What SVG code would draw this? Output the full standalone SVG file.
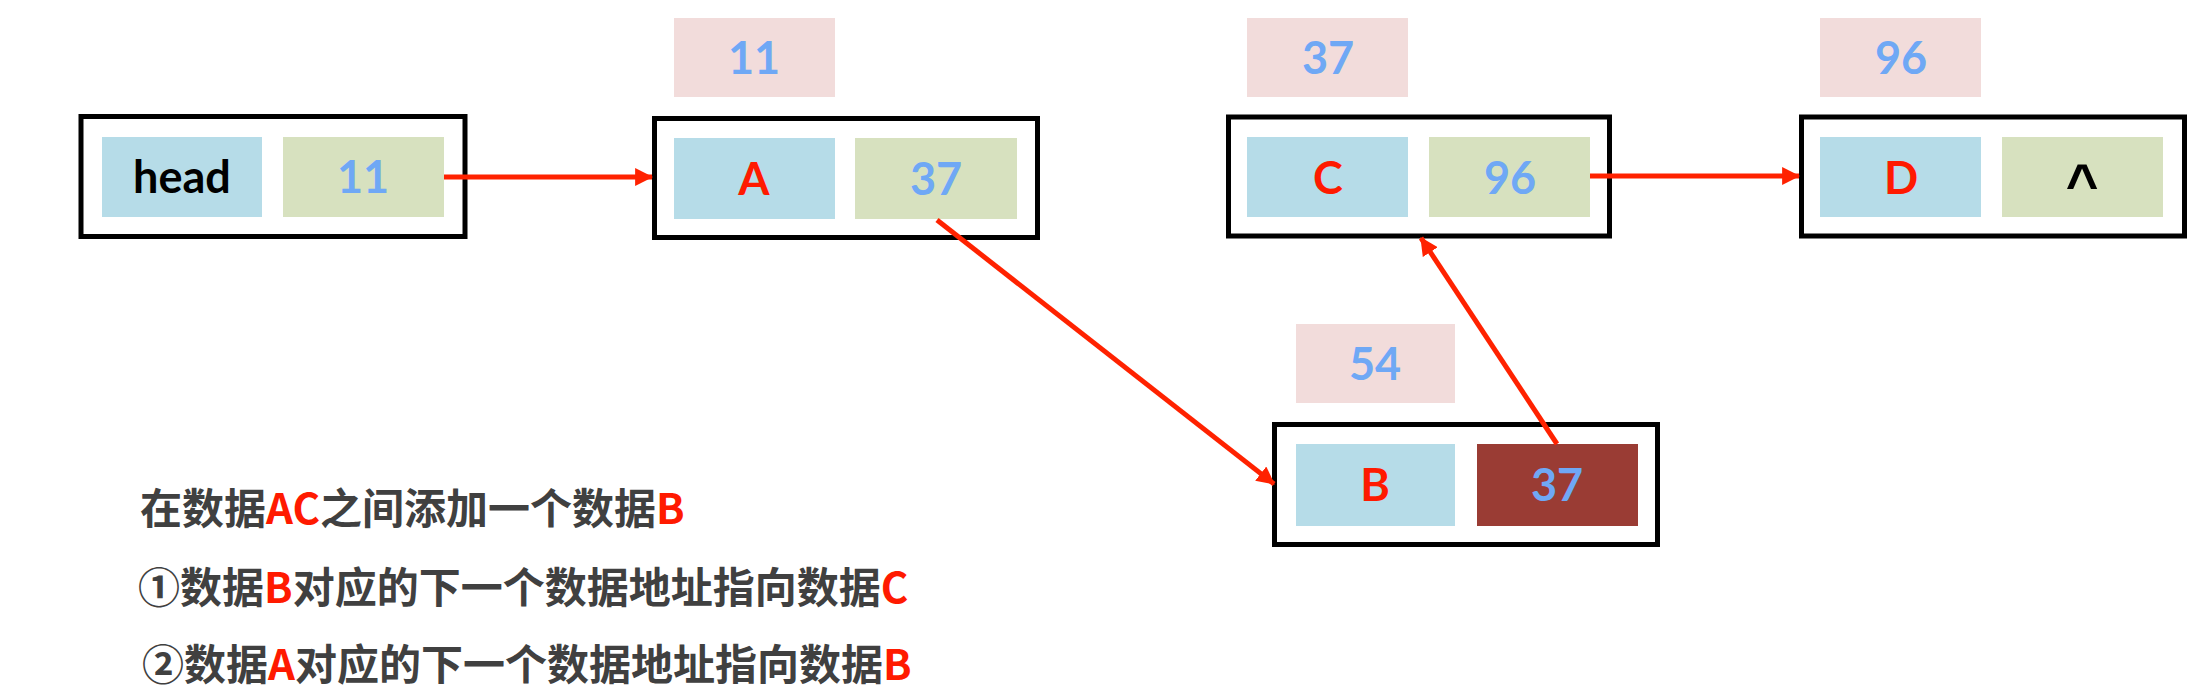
<svg xmlns="http://www.w3.org/2000/svg" width="2197" height="693" viewBox="0 0 2197 693">
<style>
.frame{fill:#ffffff;stroke:#000000;stroke-width:5}
.key{fill:#b6dce8}
.next{fill:#d7e1bf}
.addr{fill:#f2dcdb}
.hot{fill:#9a3c34}
.lbl{font-family:"Lato","Liberation Sans",sans-serif;font-weight:700;font-size:45px;text-anchor:middle}
.num{fill:#6fa8f5}
.red{fill:#ff1a00}
.blk{fill:#000000}
.link{stroke:#ff2200;stroke-width:5;fill:none;marker-end:url(#arr)}
.note{font-family:"Noto Sans CJK SC","Noto Sans",sans-serif;font-weight:700;font-size:42px;fill:#404040}
</style>
<defs>
<marker id="arr" markerUnits="userSpaceOnUse" markerWidth="18" markerHeight="18" viewBox="0 0 16 16" refX="15" refY="8" orient="auto">
<path d="M0,0 L16,8 L0,16 z" fill="#ff2200"/>
</marker>
</defs>
<rect width="2197" height="693" fill="#ffffff"/>

<g id="node-head">
<rect class="frame" x="81" y="116.5" width="384" height="120"/>
<rect class="key" x="102" y="137" width="160" height="80"/>
<rect class="next" x="283" y="137" width="161" height="80"/>
<text class="lbl blk" x="182" y="193">head</text>
<text class="lbl num" x="363" y="193">11</text>
</g>

<g id="node-A">
<rect class="addr" x="674" y="18" width="161" height="79"/>
<text class="lbl num" x="754" y="74">11</text>
<rect class="frame" x="654.5" y="118.5" width="383" height="119"/>
<rect class="key" x="674" y="138" width="161" height="81"/>
<rect class="next" x="855" y="138" width="162" height="81"/>
<text class="lbl red" x="754" y="195">A</text>
<text class="lbl num" x="936" y="195">37</text>
</g>

<g id="node-C">
<rect class="addr" x="1247" y="18" width="161" height="79"/>
<text class="lbl num" x="1328" y="74">37</text>
<rect class="frame" x="1228.5" y="117" width="381" height="119"/>
<rect class="key" x="1247" y="137" width="161" height="80"/>
<rect class="next" x="1429" y="137" width="161" height="80"/>
<text class="lbl red" x="1328" y="194">C</text>
<text class="lbl num" x="1510" y="194">96</text>
</g>

<g id="node-D">
<rect class="addr" x="1820" y="18" width="161" height="79"/>
<text class="lbl num" x="1901" y="74">96</text>
<rect class="frame" x="1801.5" y="117" width="383" height="119"/>
<rect class="key" x="1820" y="137" width="161" height="80"/>
<rect class="next" x="2002" y="137" width="161" height="80"/>
<text class="lbl red" x="1901" y="194">D</text>
<text class="lbl blk" x="2082" y="203" style="font-family:'Liberation Sans',sans-serif;font-size:56px">^</text>
</g>

<g id="node-B">
<rect class="addr" x="1296" y="324" width="159" height="79"/>
<text class="lbl num" x="1375" y="380">54</text>
<rect class="frame" x="1274.5" y="424.5" width="383" height="120"/>
<rect class="key" x="1296" y="444" width="159" height="82"/>
<rect class="hot" x="1477" y="444" width="161" height="82"/>
<text class="lbl red" x="1375" y="501">B</text>
<text class="lbl num" x="1557" y="501">37</text>
</g>

<g id="connectors">
<line class="link" x1="444" y1="177" x2="652" y2="177"/>
<line class="link" x1="1590" y1="176" x2="1799" y2="176"/>
<line class="link" x1="937" y1="220" x2="1274" y2="484"/>
<line class="link" x1="1557" y1="444" x2="1421" y2="238"/>
</g>

<g id="notes">
<text class="note" x="140" y="524">在数据<tspan class="red">AC</tspan>之间添加一个数据<tspan class="red">B</tspan></text>
<text class="note" x="138" y="603">①数据<tspan class="red">B</tspan>对应的下一个数据地址指向数据<tspan class="red">C</tspan></text>
<text class="note" x="142" y="680">②数据<tspan class="red">A</tspan>对应的下一个数据地址指向数据<tspan class="red">B</tspan></text>
</g>
</svg>
